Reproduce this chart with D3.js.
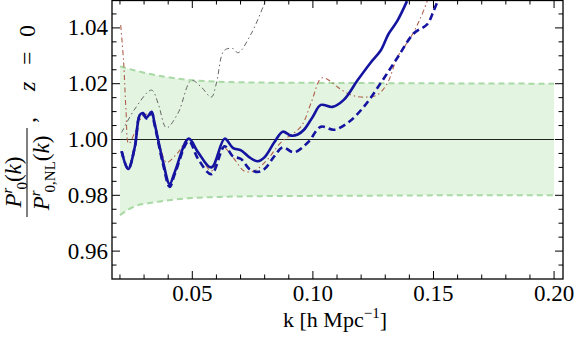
<!DOCTYPE html>
<html>
<head>
<meta charset="utf-8">
<script src="https://cdn.jsdelivr.net/npm/d3@7"></script>
<style>
  html, body { margin: 0; padding: 0; background: #fff; }
  svg { display: block; }
  text { font-family: "Liberation Serif", "Times New Roman", serif; fill: #000; }
</style>
</head>
<body>
<svg id="chart" width="576" height="342"></svg>
<script>
// band (error envelope)
const bandK = [0.02, 0.0259, 0.033, 0.04, 0.048, 0.061, 0.08, 0.1, 0.13, 0.16, 0.2];
const bandHi = [1.0262, 1.0248, 1.0234, 1.0223, 1.0214, 1.0207, 1.0204, 1.0203, 1.0202, 1.0201, 1.02];
const bandLo = [0.9729, 0.976, 0.9773, 0.9782, 0.9789, 0.9794, 0.9797, 0.9798, 0.9799, 0.98, 0.98];

// blue solid
const kSolid = [0.0207, 0.0234, 0.0262, 0.0282, 0.0296, 0.031, 0.0331, 0.0343, 0.0379, 0.0406, 0.0427,
    0.0485, 0.0524, 0.0579, 0.0634, 0.0668, 0.0702, 0.0737, 0.0771, 0.0799, 0.084, 0.0875, 0.0909,
    0.0937, 0.0963, 0.0999, 0.1033, 0.1081, 0.1128, 0.1185, 0.124, 0.1281, 0.1314, 0.135, 0.139];
const solid = [0.9958, 0.9894, 0.9975, 1.0088, 1.0095, 1.0078, 1.0099, 1.006, 0.9919, 0.984, 0.9883,
    1.0003, 0.9954, 0.99, 1.0003, 0.997, 0.9961, 0.9936, 0.9922, 0.9936, 0.999, 1.0028, 1.0014,
    1.0018, 1.0035, 1.0081, 1.0124, 1.0117, 1.0142, 1.0212, 1.0276, 1.0319, 1.0379, 1.0425, 1.0496];

// blue dashed
const kDashed = [0.0207, 0.0234, 0.0262, 0.0282, 0.0296, 0.031, 0.0331, 0.0343, 0.0379, 0.0406, 0.0427,
    0.0485, 0.0524, 0.0579, 0.0634, 0.0668, 0.0702, 0.0737, 0.0771, 0.0799, 0.084, 0.0875, 0.0921,
    0.0979, 0.1033, 0.1087, 0.1145, 0.1211, 0.1281, 0.1351, 0.1417, 0.1475, 0.15, 0.1517];
const dashed = [0.9958, 0.9894, 0.9975, 1.0085, 1.009, 1.0075, 1.0095, 1.0055, 0.991, 0.983, 0.9875,
    0.9994, 0.993, 0.9876, 0.9976, 0.994, 0.993, 0.9894, 0.9884, 0.9894, 0.994, 0.9972, 0.9954,
    0.9989, 1.0046, 1.0035, 1.006, 1.0117, 1.0202, 1.0294, 1.0379, 1.0414, 1.046, 1.0496];

// thin red-brown dot-dashed
const kRed = [0.0203, 0.0215, 0.0225, 0.0236, 0.0262, 0.0296, 0.0331, 0.0365, 0.0393, 0.0441, 0.0483,
    0.0537, 0.0579, 0.0627, 0.0674, 0.0715, 0.0756, 0.0813, 0.0868, 0.095, 0.0992, 0.1033, 0.1054,
    0.1102, 0.1157, 0.1211, 0.1267, 0.1309, 0.135, 0.1405, 0.1446, 0.1474];
const red = [1.041, 1.028, 1.0106, 0.9985, 1.0025, 1.0085, 1.009, 0.998, 0.9918, 0.9954, 1.0,
    0.9936, 0.9887, 0.9972, 0.993, 0.9887, 0.9887, 0.993, 0.999, 1.0046, 1.013, 1.0219, 1.0219,
    1.0188, 1.016, 1.0152, 1.016, 1.0202, 1.0294, 1.0365, 1.0435, 1.0496];

// thin gray dot-dashed
const kGray = [0.0207, 0.0259, 0.0331, 0.0358, 0.0393, 0.0441, 0.0496, 0.0537, 0.0579, 0.06, 0.0632,
    0.0668, 0.069, 0.0744, 0.0798, 0.081];
const gray = [1.0025, 1.0106, 1.0177, 1.013, 1.0042, 1.0095, 1.0212, 1.0188, 1.0152, 1.0202, 1.0319,
    1.0326, 1.0311, 1.0379, 1.0485, 1.051];

const xTicks = [0.05, 0.10, 0.15, 0.20];
const yTicks = [0.96, 0.98, 1.00, 1.02, 1.04];

const plot = { left: 112, right: 563, top: 0, bottom: 279 };

const svg = d3.select('#chart');
const x = d3.scaleLinear().domain([0.0167, 0.2037]).range([plot.left, plot.right]);
const y = d3.scaleLinear().domain([0.95, 1.05]).range([plot.bottom, plot.top]);

svg.append('defs').append('clipPath').attr('id', 'clip')
    .append('rect')
    .attr('x', plot.left).attr('y', plot.top)
    .attr('width', plot.right - plot.left).attr('height', plot.bottom - plot.top);

const g = svg.append('g').attr('clip-path', 'url(#clip)');

const zip = (ks, vs) => ks.map((k, i) => [k, vs[i]]);
const line = d3.line().x((d) => x(d[0])).y((d) => y(d[1])).curve(d3.curveCatmullRom.alpha(0.5));

// band fill + dashed edges
const band = bandK.map((k, i) => ({ k, lo: bandLo[i], hi: bandHi[i] }));
g.append('path')
    .datum(band)
    .attr('fill', '#e3f4e1')
    .attr('d', d3.area().x((d) => x(d.k)).y0((d) => y(d.lo)).y1((d) => y(d.hi)).curve(d3.curveMonotoneX));

[bandHi, bandLo].forEach((vals) => {
    g.append('path')
        .datum(zip(bandK, vals))
        .attr('fill', 'none')
        .attr('stroke', '#a9d9a5')
        .attr('stroke-width', 2)
        .attr('stroke-dasharray', '6,4')
        .attr('d', d3.line().x((d) => x(d[0])).y((d) => y(d[1])).curve(d3.curveMonotoneX));
});

// unity line
g.append('line')
    .attr('x1', x(0.02)).attr('x2', x(0.2))
    .attr('y1', y(1)).attr('y2', y(1))
    .attr('stroke', '#222').attr('stroke-width', 1);

// thin curves
g.append('path').datum(zip(kGray, gray))
    .attr('fill', 'none').attr('stroke', '#666').attr('stroke-width', 1)
    .attr('stroke-dasharray', '5,3,1.5,3').attr('d', line);

g.append('path').datum(zip(kRed, red))
    .attr('fill', 'none').attr('stroke', '#b0604c').attr('stroke-width', 1.1)
    .attr('stroke-dasharray', '5,3,1.5,3').attr('d', line);

// thick blue curves
g.append('path').datum(zip(kDashed, dashed))
    .attr('fill', 'none').attr('stroke', '#1414a0').attr('stroke-width', 2.6)
    .attr('stroke-dasharray', '7,4').attr('d', line);

g.append('path').datum(zip(kSolid, solid))
    .attr('fill', 'none').attr('stroke', '#1414a0').attr('stroke-width', 2.6)
    .attr('d', line);

// frame
svg.append('rect')
    .attr('x', plot.left).attr('y', plot.top + 0.5)
    .attr('width', plot.right - plot.left).attr('height', plot.bottom - plot.top - 0.5)
    .attr('fill', 'none').attr('stroke', '#000').attr('stroke-width', 1.3);

// ticks on all four sides, pointing inward
const xMinor = d3.range(2, 21).map((i) => i / 100);
const yMinor = d3.range(191, 210).map((i) => i / 200);
const isMajor = (v, step) => Math.abs(v / step - Math.round(v / step)) < 1e-6;

const ticks = svg.append('g').attr('stroke', '#000').attr('stroke-width', 1);
xMinor.forEach((v) => {
    const len = isMajor(v, 0.05) ? 8 : 4.5;
    const px = x(v);
    ticks.append('line').attr('x1', px).attr('x2', px).attr('y1', plot.bottom).attr('y2', plot.bottom - len);
    ticks.append('line').attr('x1', px).attr('x2', px).attr('y1', plot.top).attr('y2', plot.top + len);
});
yMinor.forEach((v) => {
    const len = isMajor(v, 0.02) ? 8 : 4.5;
    const py = y(v);
    ticks.append('line').attr('x1', plot.left).attr('x2', plot.left + len).attr('y1', py).attr('y2', py);
    ticks.append('line').attr('x1', plot.right).attr('x2', plot.right - len).attr('y1', py).attr('y2', py);
});

// tick labels
svg.append('g').selectAll('text').data(xTicks).join('text')
    .attr('x', (d) => x(d)).attr('y', 301)
    .attr('text-anchor', 'middle').attr('font-size', 23)
    .text((d) => d.toFixed(2));

svg.append('g').selectAll('text').data(yTicks).join('text')
    .attr('x', 108).attr('y', (d) => y(d) + 7.5)
    .attr('text-anchor', 'end').attr('font-size', 23)
    .text((d) => d.toFixed(2));

// x axis title
const xt = svg.append('text').attr('x', 335).attr('y', 327)
    .attr('text-anchor', 'middle').attr('font-size', 22);
xt.append('tspan').text('k [h Mpc');
xt.append('tspan').attr('font-size', 15).attr('dy', -9).text('\u22121');
xt.append('tspan').attr('dy', 9).text(']');

// y axis title: fraction, rotated
const yl = svg.append('g').attr('transform', 'translate(27,218) rotate(-90)');
yl.append('line').attr('x1', 1).attr('x2', 90).attr('y1', 0).attr('y2', 0)
    .attr('stroke', '#000').attr('stroke-width', 1);

const num = yl.append('text').attr('x', 36).attr('y', -6)
    .attr('text-anchor', 'middle').attr('font-size', 23);
num.append('tspan').attr('font-style', 'italic').text('P');
num.append('tspan').attr('font-size', 15).attr('dy', -9).attr('font-style', 'italic').text('r');
num.append('tspan').attr('font-size', 15).attr('dy', 15).attr('dx', -2).text('0');
num.append('tspan').attr('dy', -6).text('(');
num.append('tspan').attr('font-style', 'italic').text('k');
num.append('tspan').text(')');

const den = yl.append('text').attr('x', 45).attr('y', 22)
    .attr('text-anchor', 'middle').attr('font-size', 23);
den.append('tspan').attr('font-style', 'italic').text('P');
den.append('tspan').attr('font-size', 15).attr('dy', -9).attr('font-style', 'italic').text('r');
den.append('tspan').attr('font-size', 15).attr('dy', 15).attr('dx', -2).text('0,NL');
den.append('tspan').attr('dy', -6).text('(');
den.append('tspan').attr('font-style', 'italic').text('k');
den.append('tspan').text(')');

// ", z = 0" with the wide spacing of the original
const zl = yl.append('text').attr('y', 8).attr('font-size', 24);
zl.append('tspan').attr('x', 95).text(',');
zl.append('tspan').attr('x', 127).attr('font-style', 'italic').text('z');
zl.append('tspan').attr('x', 153).text('=');
zl.append('tspan').attr('x', 181).text('0');
</script>
</body>
</html>
